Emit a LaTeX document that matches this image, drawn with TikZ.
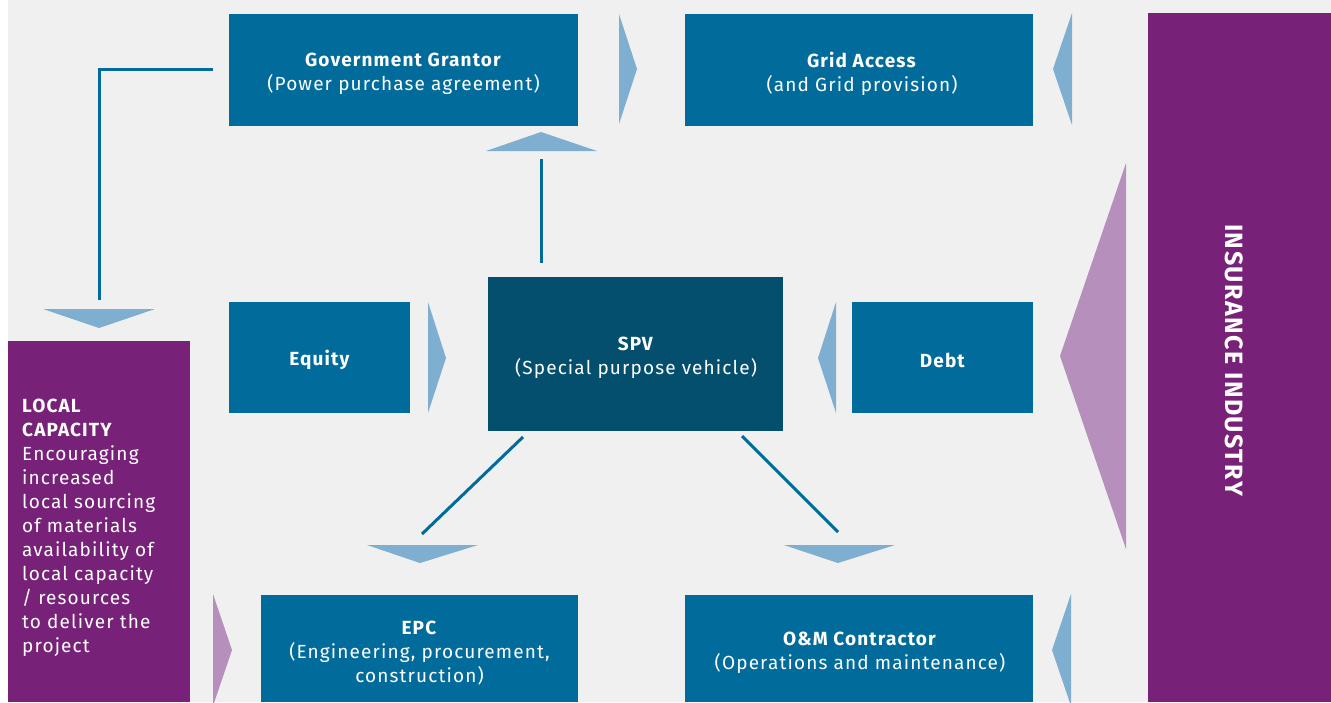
\documentclass[tikz,border=0pt]{standalone}
\usepackage{fontspec}
\setmainfont[LetterSpace=6]{Fira Sans}
\usetikzlibrary{positioning}
\definecolor{bgc}{HTML}{F0F0F0}
\definecolor{boxblue}{HTML}{016C9C}
\definecolor{spvblue}{HTML}{034F6D}
\definecolor{arrblue}{HTML}{7FAFD0}
\definecolor{purp}{HTML}{772278}
\definecolor{lpurp}{HTML}{B78FBD}
\tikzset{
  txt/.style={text=white, align=center, font=\fontsize{19}{24}\selectfont},
  boxnode/.style={fill=boxblue, anchor=north west, inner sep=0pt},
  spvnode/.style={boxnode, fill=spvblue},
  purpnode/.style={fill=purp, anchor=north west, inner sep=0pt},
  conn/.style={draw=boxblue, line width=3pt},
  tri/.style={fill=arrblue},
  ltri/.style={fill=lpurp},
}
\begin{document}
\begin{tikzpicture}[x=1pt,y=-1pt]
\useasboundingbox (0,0) rectangle (1331,702);
\fill[bgc] (8,0) rectangle (1331,702);
% boxes
\node[boxnode, minimum width=349pt, minimum height=112pt] (gov) at (229,14) {};
\node[boxnode, minimum width=348pt, minimum height=112pt] (grid) at (685,14) {};
\node[boxnode, minimum width=181pt, minimum height=111pt] (equity) at (229,302) {};
\node[spvnode, minimum width=295pt, minimum height=154pt] (spv) at (488,277) {};
\node[boxnode, minimum width=181pt, minimum height=111pt] (debt) at (852,302) {};
\node[boxnode, minimum width=317pt, minimum height=107pt] (epc) at (261,595) {};
\node[boxnode, minimum width=348pt, minimum height=107pt] (om) at (685,595) {};
\node[purpnode, minimum width=183pt, minimum height=689pt] (ins) at (1148,13) {};
\node[purpnode, minimum width=182pt, minimum height=361pt] (local) at (8,341) {};
% texts
\node[txt] (govt) at (403.5,74) {\textbf{Government Grantor}\\(Power purchase agreement)};
\node[txt] (gridt) at (862,74) {\textbf{Grid Access}\\(and Grid provision)};
\node[txt] (equityt) at (320,360) {\textbf{Equity}};
\node[txt] (spvt) at (636,358) {\textbf{SPV}\\(Special purpose vehicle)};
\node[txt] (debtt) at (943,360) {\textbf{Debt}};
\node[txt] (epct) at (419.5,653.5) {\textbf{EPC}\\(Engineering, procurement,\\construction)};
\node[txt] (omt) at (860,653) {\textbf{O\&M Contractor}\\(Operations and maintenance)};
\node[text=white, rotate=-90, font=\fontsize{25}{30}\selectfont\bfseries] (inst) at (1234,360) {INSURANCE INDUSTRY};
\node[text=white, anchor=north west, align=left, inner sep=0pt, font=\fontsize{19}{24}\selectfont] (localt) at (22,399)
  {\textbf{LOCAL}\\\textbf{CAPACITY}\\Encouraging\\increased\\local sourcing\\of materials\\availability of\\local capacity\\/ resources\\to deliver the\\project};
% arrow triangles
\fill[tri] (619,14) -- (637,69) -- (619,124) -- cycle;
\fill[tri] (1072,13) -- (1053,69) -- (1072,125) -- cycle;
\fill[tri] (1071,594) -- (1052,650) -- (1071,706) -- cycle;
\fill[tri] (428,302) -- (446,358) -- (428,413) -- cycle;
\fill[tri] (836,302) -- (818,358) -- (836,413) -- cycle;
\fill[tri] (486,151) -- (541,132) -- (597,151) -- cycle;
\fill[tri] (43,309) -- (155,309) -- (99,328) -- cycle;
\fill[tri] (367,545) -- (478,545) -- (420,563) -- cycle;
\fill[tri] (784,545) -- (895,545) -- (838,563) -- cycle;
\fill[ltri] (1126,163) -- (1060,356) -- (1126,549) -- cycle;
\fill[ltri] (213,594) -- (232,650) -- (213,706) -- cycle;
% connectors
\coordinate (g1) at (213,69);
\coordinate (g2) at (99,300);
\coordinate (s1) at (541,263);
\coordinate (s2) at (541,159);
\coordinate (e1) at (523,437);
\coordinate (e2) at (422,534);
\coordinate (o1) at (742,436);
\coordinate (o2) at (838,532);
\draw[conn] (g1) -| (g2);
\draw[conn] (s1) -- (s2);
\draw[conn] (e1) -- (e2);
\draw[conn] (o1) -- (o2);
\end{tikzpicture}
\end{document}
